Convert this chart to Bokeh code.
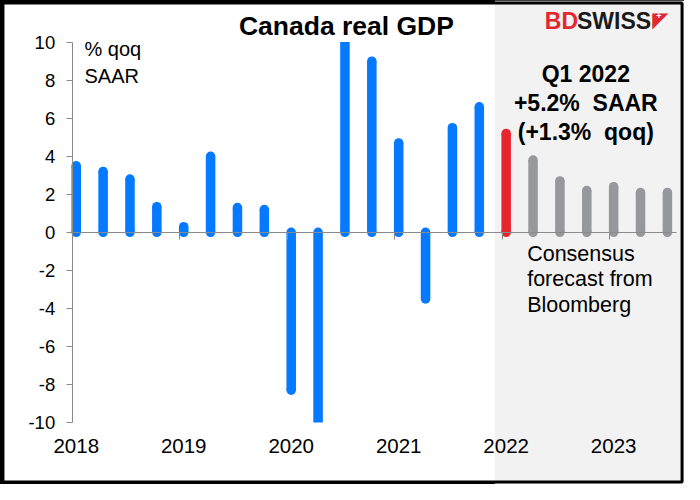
import numpy as np
from bokeh.plotting import figure
from bokeh.models import (Range1d, LinearAxis, FixedTicker, BoxAnnotation, Label,
                          CustomJSTickFormatter, ColumnDataSource)
from bokeh.embed import file_html
from bokeh.resources import INLINE

# ---------------- data ----------------
quarters = ["2018Q1", "2018Q2", "2018Q3", "2018Q4",
            "2019Q1", "2019Q2", "2019Q3", "2019Q4",
            "2020Q1", "2020Q2", "2020Q3", "2020Q4",
            "2021Q1", "2021Q2", "2021Q3", "2021Q4",
            "2022Q1", "2022Q2", "2022Q3", "2022Q4",
            "2023Q1", "2023Q2", "2023Q3"]
gdp_saar = [3.5, 3.2, 2.8, 1.35,
            0.3, 4.0, 1.3, 1.2,
            -8.3, -38.0, 40.5, 9.0,
            4.7, -3.5, 5.5, 6.6,
            5.2, 3.8, 2.7, 2.2,
            2.4, 2.1, 2.1]
kind = ["actual"] * 16 + ["latest"] + ["forecast"] * 6
year_labels = ["2018", "2019", "2020", "2021", "2022", "2023"]
y_ticks = [-10, -8, -6, -4, -2, 0, 2, 4, 6, 8, 10]
y_limits = (-10, 10)

kind_colors = {"actual": "#0579ff", "latest": "#e5262f", "forecast": "#97989c"}

# ---------------- layout helpers (reference pixel -> data) ----------------
W, H = 684, 484
REF_W, REF_H = 700, 500
X0_PX, DX_PX = 77.5, 27.5     # centre of first bar, bar spacing
Y0_PX, DY_PX = 239.5, 19.65   # zero line, pixels per unit


def fx(px):
    return (px - X0_PX) / DX_PX


def fy(py):
    return (Y0_PX - py) / DY_PX


x = np.arange(len(quarters))
vals = np.array(gdp_saar, dtype=float)
clipped = np.clip(vals, *y_limits)
colors = [kind_colors[k] for k in kind]
inside = (vals >= y_limits[0]) & (vals <= y_limits[1])

p = figure(width=W, height=H,
           x_range=Range1d(fx(0), fx(REF_W)), y_range=Range1d(fy(REF_H), fy(0)),
           x_axis_location=None, y_axis_location=None,
           toolbar_location=None, output_backend="svg", min_border=0)
p.title = None
p.xgrid.visible = False
p.ygrid.visible = False
p.background_fill_color = "white"
p.border_fill_color = "white"
p.outline_line_color = "black"
p.outline_line_width = 3

# forecast shading
first_latest = kind.index("latest")
shade = BoxAnnotation(left=first_latest - 0.42, right=fx(REF_W),
                      bottom=fy(REF_H), top=fy(0),
                      fill_color="#f2f2f2", fill_alpha=1.0, line_color=None,
                      level="underlay")
p.add_layout(shade)

# outer chart border
p.quad(left=[fx(2.5)], right=[fx(REF_W - 2.5)], bottom=[fy(REF_H - 2.5)], top=[fy(2.5)],
       fill_color=None, fill_alpha=0, line_color="black", line_width=3)

# bars with rounded ends
bar_src = ColumnDataSource(dict(x=x, top=clipped, color=colors))
p.vbar(x="x", top="top", bottom=0, width=0.355, source=bar_src,
       fill_color="color", line_color=None)
base_src = ColumnDataSource(dict(x=x, y=np.zeros(len(x)), color=colors))
p.scatter(x="x", y="y", size=9.5, source=base_src, marker="circle",
          fill_color="color", line_color=None)
end_src = ColumnDataSource(dict(x=x[inside], y=vals[inside],
                                color=[c for c, ok in zip(colors, inside) if ok]))
p.scatter(x="x", y="y", size=9.5, source=end_src, marker="circle",
          fill_color="color", line_color=None)

AXIS_GRAY = "#8a8a8a"
FONT = "Liberation Sans"

# y axis
yaxis = LinearAxis(fixed_location=-0.15, bounds=y_limits,
                   ticker=FixedTicker(ticks=y_ticks),
                   major_label_overrides={t: str(t) for t in y_ticks},
                   axis_line_color=AXIS_GRAY, axis_line_width=1,
                   major_tick_line_color=AXIS_GRAY, major_tick_out=6, major_tick_in=0,
                   minor_tick_out=0, minor_tick_in=0,
                   major_label_text_font=FONT, major_label_text_font_size="18.5px",
                   major_label_text_color="black", major_label_standoff=11)
p.add_layout(yaxis, "left")

# zero line with year separators
zero_axis = LinearAxis(fixed_location=0, bounds=(-0.15, 22.35),
                       ticker=FixedTicker(ticks=[4 * k - 0.15 for k in range(len(year_labels))]),
                       formatter=CustomJSTickFormatter(code="return ''"),
                       axis_line_color=AXIS_GRAY, axis_line_width=1,
                       major_tick_line_color=AXIS_GRAY, major_tick_out=7, major_tick_in=0,
                       minor_tick_out=0, minor_tick_in=0, major_label_standoff=0)
p.add_layout(zero_axis, "below")

# year labels
year_axis = LinearAxis(fixed_location=fy(449),
                       ticker=FixedTicker(ticks=[4 * i for i in range(len(year_labels))]),
                       major_label_overrides={4 * i: lbl for i, lbl in enumerate(year_labels)},
                       axis_line_color=None, major_tick_line_color=None,
                       major_tick_out=0, major_tick_in=0, minor_tick_out=0, minor_tick_in=0,
                       major_label_text_font=FONT, major_label_text_font_size="20.5px",
                       major_label_text_color="black", major_label_standoff=4)
p.add_layout(year_axis, "below")


def add_text(text, px, py, size, align="left", bold=False, color="black", font=FONT):
    p.add_layout(Label(x=fx(px), y=fy(py), text=text, text_font=font,
                       text_font_size=size, text_font_style="bold" if bold else "normal",
                       text_align=align, text_baseline="middle", text_color=color))


NBSP = "\u00a0"
add_text("Canada real GDP", 354, 26.5, "26.5px", align="center", bold=True)
add_text("% qoq", 86, 50.5, "20px")
add_text("SAAR", 86, 78.5, "20px")
add_text("Q1 2022", 599, 75.5, "23px", align="center", bold=True)
add_text("+5.2%" + NBSP + NBSP + "SAAR", 599, 105.5, "23px", align="center", bold=True)
add_text("(+1.3%" + NBSP + NBSP + "qoq)", 599, 135.5, "23px", align="center", bold=True)
add_text("Consensus", 539, 262, "21.5px")
add_text("forecast from", 539, 288, "21.5px")
add_text("Bloomberg", 539, 315, "21.5px")

# logo
add_text("BD", 591, 21.5, "23px", align="right", bold=True, color="#e3262f")
add_text("SWISS", 590, 21.5, "23px", align="left", bold=True, color="#1a1a1a")
add_text("\u25e4", 667, 20, "21px", align="left", color="#e3262f", font="DejaVu Sans")
add_text("+", 671, 16, "9px", align="left", bold=True, color="white")

open("out.html", "w").write(file_html(p, INLINE))
